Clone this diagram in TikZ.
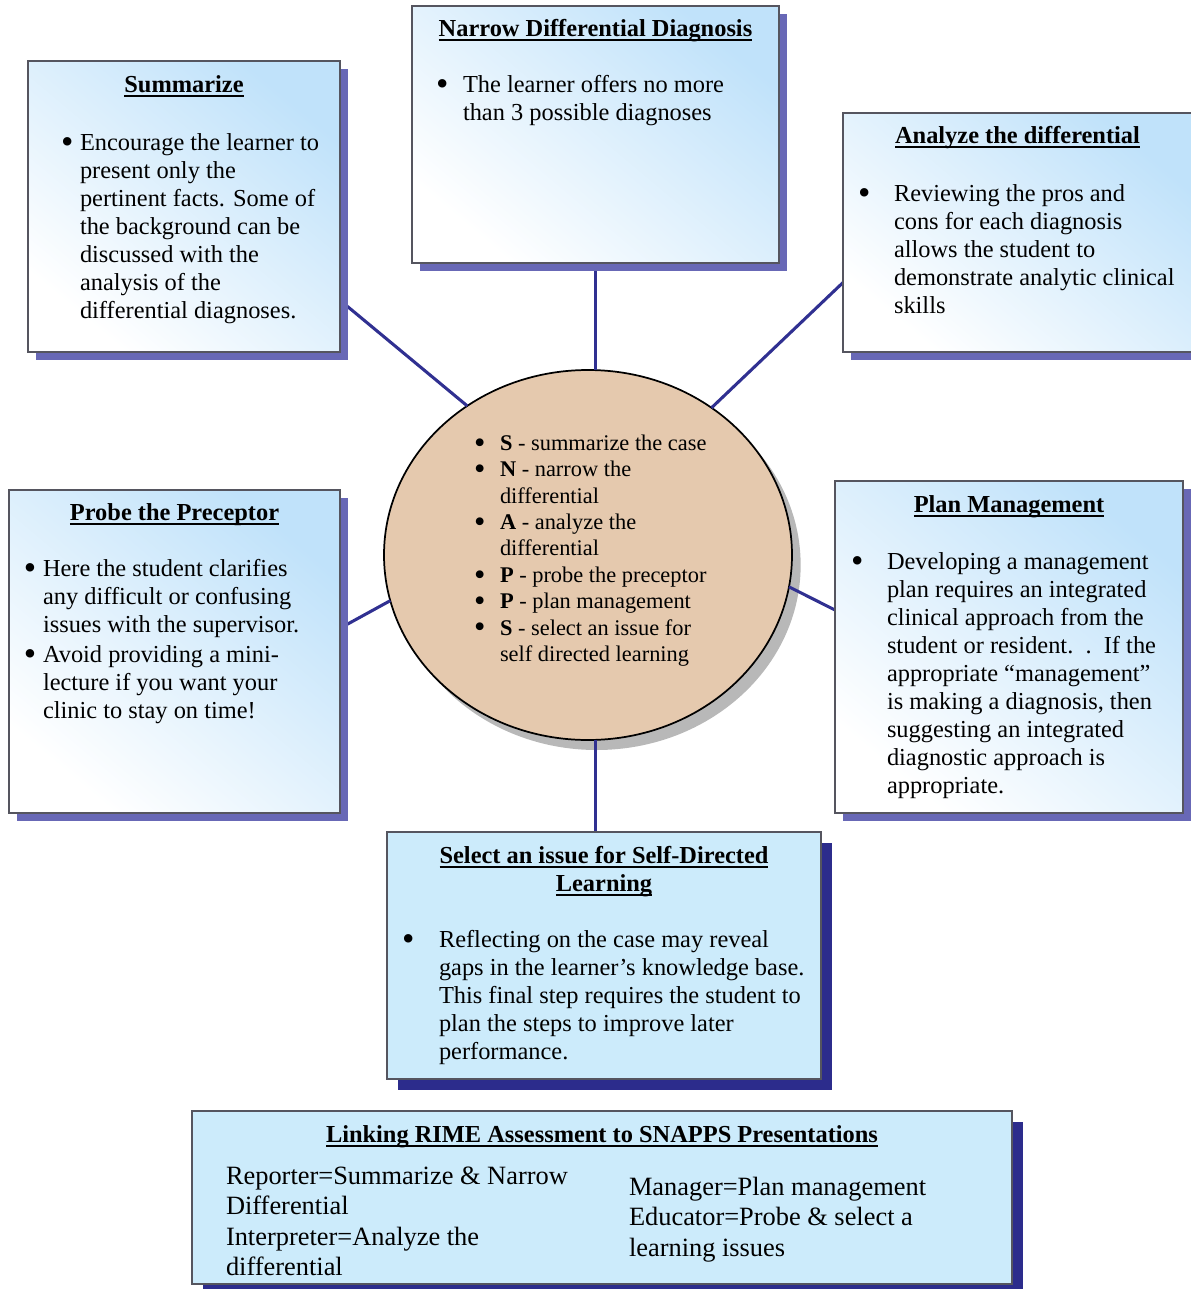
\documentclass[tikz,border=0pt]{standalone}
\usepackage{fontspec}
\setmainfont{Liberation Serif}
\usepackage{tikz}
\usetikzlibrary{shapes.geometric,shadows}
\definecolor{skyline}{RGB}{192,226,250}
\definecolor{flatblue}{RGB}{204,235,251}
\definecolor{shadowlite}{RGB}{104,104,182}
\definecolor{shadowdark}{RGB}{44,44,140}
\definecolor{wire}{RGB}{48,48,145}
\definecolor{hubfill}{RGB}{229,201,174}
\definecolor{boxedge}{RGB}{85,85,95}
\newdimen\pxu \pxu=0.75pt
\newsavebox{\titlebox}
\newcommand{\uln}[1]{\leavevmode\sbox{\titlebox}{#1}\rlap{\rule[-3.3pt]{\wd\titlebox}{1.3pt}}\usebox{\titlebox}}
\newcommand{\blob}{\raisebox{-0.13em}{\scalebox{1.45}{\textbullet}}}
\newcommand{\boxtitle}[1]{{\centering\bfseries\uln{#1}\strut\par}}
\newcommand{\bitem}[3]{{\leftskip=#1\pxu\hangindent=#2\pxu\hangafter=1\noindent\makebox[#2\pxu][l]{\blob}#3\par}}
\newcommand{\hubitem}[2]{{\hangindent=26\pxu\hangafter=1\noindent\makebox[26\pxu][l]{\blob}\textbf{#1} - #2\par}}
\newcommand{\cardtext}[3]{\parbox[c][#2\pxu][t]{#1\pxu}{\raggedright\fontsize{18.3}{21}\selectfont#3}}
\pgfdeclarelayer{under}
\pgfdeclarelayer{wires}
\pgfsetlayers{under,wires,main}
\tikzset{
  card/.style={draw=boxedge, line width=0.8pt, inner sep=0pt, outer sep=0pt, anchor=north west,
    top color=skyline, bottom color=white, shading angle=-40,
    drop shadow={shadow xshift=6pt, shadow yshift=-6pt, fill=shadowlite, opacity=1}},
  flatcard/.style={draw=boxedge, line width=0.8pt, inner sep=0pt, outer sep=0pt, anchor=north west,
    fill=flatblue, drop shadow={shadow xshift=8.25pt, shadow yshift=-8.25pt, fill=shadowdark, opacity=1}},
  hub/.style={ellipse, draw=black, line width=1.3pt, fill=hubfill, inner sep=0pt, outer sep=0pt,
    minimum width=306pt, minimum height=277.5pt,
    drop shadow={shadow xshift=6.5pt, shadow yshift=-7.5pt, fill=black!28, opacity=1}},
  link/.style={draw=wire, line width=2.3pt}
}
\begin{document}
\begin{tikzpicture}[x=0.75pt, y=-0.75pt]
\useasboundingbox (0,0) rectangle (1190,1289);
\begin{pgfonlayer}{under}
\node[hub] (snapps) at (588,555) {\hspace*{22\pxu}\parbox{250\pxu}{\raggedright\fontsize{16.8}{19.8}\selectfont
  \hubitem{S}{summarize the case}\hubitem{N}{narrow the\newline differential}\hubitem{A}{analyze the\newline differential}%
  \hubitem{P}{probe the preceptor}\hubitem{P}{plan management}\hubitem{S}{select an issue for\newline self directed learning}\vspace*{9\pxu}}};
\end{pgfonlayer}
\node[card] (narrow) at (412,6) {\cardtext{367}{257}{\vspace*{11\pxu}\boxtitle{Narrow Differential Diagnosis}\vspace{28\pxu}%
  \bitem{24}{27}{The learner offers no more\newline than 3 possible diagnoses}}};
\node[card] (summ) at (28,61) {\cardtext{312}{291}{\vspace*{12\pxu}\boxtitle{Summarize}\vspace{30\pxu}%
  \bitem{33}{19}{Encourage the learner to\newline present only the\newline pertinent facts. Some of\newline the background can be\newline discussed with the\newline analysis of the\newline differential diagnoses.}}};
\node[card] (ana) at (843,113) {\cardtext{349}{239}{\vspace*{11\pxu}\boxtitle{Analyze the differential}\vspace{30\pxu}%
  \bitem{15}{36}{Reviewing the pros and\newline cons for each diagnosis\newline allows the student to\newline demonstrate analytic clinical\newline skills}}};
\node[card] (probe) at (9,490) {\cardtext{331}{323}{\vspace*{11\pxu}\boxtitle{Probe the Preceptor}\vspace{28\pxu}%
  \bitem{15}{19}{Here the student clarifies\newline any difficult or confusing\newline issues with the supervisor.}\vspace{2\pxu}%
  \bitem{15}{19}{Avoid providing a mini-\newline lecture if you want your\newline clinic to stay on time!}}};
\node[card] (plan) at (835,481) {\cardtext{348}{332}{\vspace*{12\pxu}\boxtitle{Plan Management}\vspace{29\pxu}%
  \bitem{16}{36}{Developing a management\newline plan requires an integrated\newline clinical approach from the\newline student or resident.\ \ .\ \ If the\newline appropriate “management”\newline is making a diagnosis, then\newline suggesting an integrated\newline diagnostic approach is\newline appropriate.}}};
\node[flatcard] (select) at (387,832) {\cardtext{434}{247}{\vspace*{12\pxu}\boxtitle{Select an issue for Self-Directed}\boxtitle{Learning}\vspace{28\pxu}%
  \bitem{15}{37}{Reflecting on the case may reveal\newline gaps in the learner’s knowledge base.\newline This final step requires the student to\newline plan the steps to improve later\newline performance.}}};
\node[flatcard] (rime) at (192,1111) {\cardtext{820}{173}{\vspace*{12\pxu}\boxtitle{Linking RIME Assessment to SNAPPS Presentations}\vspace{14\pxu}%
  \noindent\hspace*{34\pxu}\parbox[t]{390\pxu}{\fontsize{19.8}{22.7}\selectfont Reporter=Summarize \& Narrow\\Differential\\Interpreter=Analyze the\\differential}%
  \hspace{13\pxu}\raisebox{-11\pxu}{\parbox[t]{360\pxu}{\fontsize{19.8}{22.7}\selectfont Manager=Plan management\\Educator=Probe \& select a\\learning issues}}}};
\begin{pgfonlayer}{wires}
\draw[link] (snapps.129) -- (summ.329);
\draw[link] (narrow.south) -- (narrow.south |- snapps.north);
\draw[link] (snapps.50) -- (ana.196);
\draw[link] (snapps.193) -- (probe.8);
\draw[link] (snapps.351) -- (plan.168);
\draw[link] (narrow.south |- snapps.south) -- (narrow.south |- select.north);
\end{pgfonlayer}
\end{tikzpicture}
\end{document}
